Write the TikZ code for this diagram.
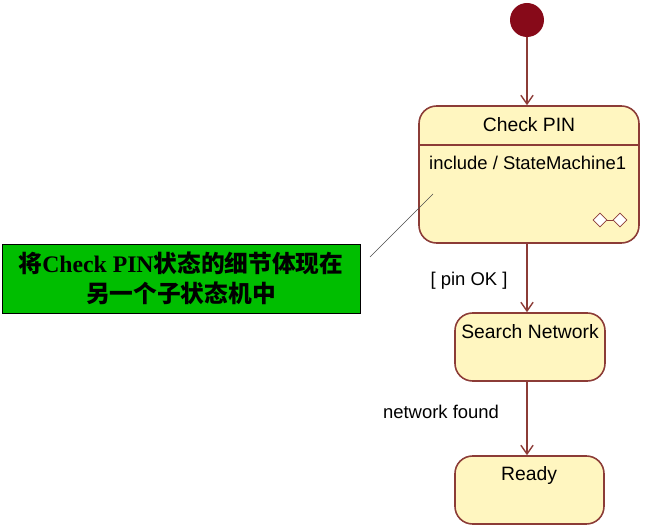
\documentclass[tikz,border=0pt]{standalone}
\usepackage{fontspec}
\setmainfont{Liberation Sans}
\newfontfamily\serifbf{Liberation Serif}
\newfontfamily\cjk{Noto Sans CJK SC}
\usetikzlibrary{shapes.geometric,positioning,calc,arrows.meta}
\definecolor{stateline}{RGB}{140,60,55}
\definecolor{statefill}{RGB}{255,246,192}
\definecolor{notegreen}{RGB}{0,190,0}
\definecolor{startred}{RGB}{135,10,25}

\begin{document}
\begin{tikzpicture}[
    x=0.02cm, y=-0.02cm,
    state/.style={rectangle, rounded corners=10pt, draw=stateline, fill=statefill, line width=0.9pt},
    initial/.style={circle, fill=startred, minimum size=34*0.02cm, inner sep=0pt},
    arrow/.style={-{Straight Barb[length=5pt,width=7pt]}, draw=stateline, line width=0.8pt},
    guard/.style={font=\fontsize{10.5}{13}\selectfont},
    note/.style={rectangle, draw, fill=notegreen, align=center, font=\fontsize{13.5}{17}\selectfont\bfseries}
]
\useasboundingbox (0,0) rectangle (647,530);

% Initial state
\node[initial] (start) at (527,20) {};

% States
\node[state, minimum width=220*0.02cm, minimum height=137*0.02cm] (checkpin) at (529,174.5) {};
\draw[stateline, line width=0.8pt] (419,145) -- (639,145);
\node[font=\fontsize{11}{13}\selectfont] (cptitle) at (529,125) {Check PIN};
\node[font=\fontsize{10.5}{13}\selectfont, anchor=west] (cpdo) at (423,163) {include / StateMachine1};
\node[diamond, draw=stateline, fill=white, inner sep=2pt] (ringa) at (600,220) {};
\node[diamond, draw=stateline, fill=white, inner sep=2pt] (ringb) at (620,220) {};
\draw[stateline] (ringa) -- (ringb);

\node[state, minimum width=150*0.02cm, minimum height=68*0.02cm] (search) at (530,347) {};
\node[font=\fontsize{11}{13}\selectfont] (searchtxt) at (530,332) {Search Network};

\node[state, minimum width=149*0.02cm, minimum height=68*0.02cm] (ready) at (529.5,490) {};
\node[font=\fontsize{11}{13}\selectfont] (readytxt) at (529,476) {Ready};

% Transitions
\draw[arrow] (start) -- (start |- checkpin.north);
\draw[arrow] (checkpin.south -| start) -- (start |- search.north);
\draw[arrow] (search.south -| start) -- (start |- ready.north);
\node[guard] (pinok) at (469,281) {[ pin OK ]};
\node[guard] (netfound) at (441,412) {network found};

% Note
\node[note, minimum width=358*0.02cm, minimum height=69*0.02cm] (comment) at (181,278.5)
    {{\cjk 将}{\serifbf Check PIN}{\cjk 状态的细节体现在}\\{\cjk 另一个子状态机中}};
\coordinate (notetip) at (433,194);
\draw[black!70, line width=0.4pt] (370,257) -- (notetip);
\end{tikzpicture}
\end{document}
